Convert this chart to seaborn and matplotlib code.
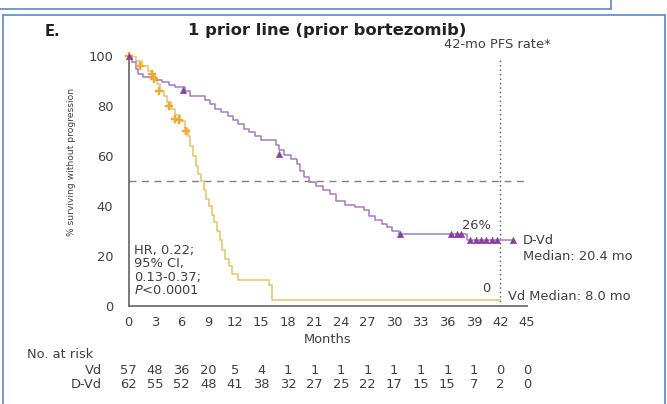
import numpy as np
import pandas as pd
import matplotlib
matplotlib.use("Agg")
import matplotlib.pyplot as plt
from matplotlib.lines import Line2D
import seaborn as sns

# ---------------- data ----------------
months_ticks = [0, 3, 6, 9, 12, 15, 18, 21, 24, 27, 30, 33, 36, 39, 42, 45]
yticks = [0, 20, 40, 60, 80, 100]

dvd_t = [0, 0.4, 0.8, 1.1, 1.6, 3.0, 3.8, 4.6, 5.3, 6.4, 7.0, 8.6, 9.2, 9.8, 10.5,
         11.2, 11.8, 12.4, 13.0, 13.6, 14.3, 15.0, 16.6, 17.0, 17.6, 18.4, 19.0,
         19.4, 19.8, 20.4, 21.2, 22.0, 22.8, 23.4, 24.5, 25.6, 26.6, 27.2, 27.8,
         28.6, 29.2, 29.8, 30.5, 38.2, 43.4]
dvd_s = [100, 97.5, 95, 93, 91.5, 90.5, 89.5, 88.5, 87.5, 86, 84, 82.5, 81, 79, 77.5,
         76, 74.5, 73, 71, 69.5, 68, 66.5, 64.5, 62.5, 60.5, 59, 57,
         54, 51.5, 49.5, 48, 46.5, 45, 42, 40.5, 39.5, 38.5, 36, 34.5,
         33, 31.5, 30, 28.8, 26.5, 26.5]
dvd_cens_t = [0, 6.2, 17.0, 30.7, 36.4, 37.1, 37.5, 38.6, 39.2, 39.8, 40.4, 41.0, 41.6, 43.4]
dvd_cens_s = [100, 86.5, 61, 28.8, 28.8, 28.8, 28.8, 26.5, 26.5, 26.5, 26.5, 26.5, 26.5, 26.5]

vd_t = [0, 0.8, 1.5, 2.2, 2.7, 3.2, 3.6, 4.0, 4.4, 4.8, 5.2, 5.8, 6.4, 6.7, 7.0, 7.3,
        7.6, 7.9, 8.2, 8.5, 8.8, 9.1, 9.4, 9.7, 10.0, 10.3, 10.6, 10.9, 11.3, 11.7,
        12.4, 15.9, 16.2, 42.0]
vd_s = [100, 98, 96, 94, 91.5, 89, 86, 84, 81.5, 79, 76.5, 74, 71, 68, 64, 60,
        56, 53, 50, 46.5, 43, 40, 36.5, 33.5, 30, 26.5, 22.5, 19, 16, 13,
        10.5, 8.5, 2.5, 2.5]
vd_cens_t = [0, 1.3, 2.6, 2.9, 3.5, 4.6, 5.2, 5.7, 6.5]
vd_cens_s = [100, 96, 93, 91, 86, 80, 75, 74.5, 70]

risk_groups = ["Vd", "D-Vd"]
vd_risk = [57, 48, 36, 20, 5, 4, 1, 1, 1, 1, 1, 1, 1, 1, 0, 0]
dvd_risk = [62, 55, 52, 48, 41, 38, 32, 27, 25, 22, 17, 15, 15, 7, 2, 0]

# ---------------- style ----------------
sns.set_theme(style="white")
plt.rcParams["font.family"] = ["DejaVu Sans"]
plt.rcParams["mathtext.fontset"] = "dejavusans"

TXT = "#404040"
AX = "#6e6e6e"
PUR_L = "#a47bc2"
PUR_M = "#8a3f9e"
ORA_L = "#e8c263"
ORA_M = "#f0a935"
FS = 9.4

W, H = 667, 404
fig = plt.figure(figsize=(W / 100, H / 100), dpi=100)
x0, x1, y0, y1 = 128.5, 527, 306, 56
ax = fig.add_axes([x0 / W, 1 - y0 / H, (x1 - x0) / W, (y0 - y1) / H])

# reference lines
ax.axhline(50, color="#808080", lw=1.0, ls=(0, (5, 4)), zorder=1)
ax.plot([42, 42], [0, 99], color="#555555", lw=1.0, ls=(0, (1, 2.2)), zorder=1)

# curves
sns.lineplot(x=vd_t, y=vd_s, drawstyle="steps-post", estimator=None, sort=False,
             color=ORA_L, lw=1.1, ax=ax, zorder=3)
sns.lineplot(x=dvd_t, y=dvd_s, drawstyle="steps-post", estimator=None, sort=False,
             color=PUR_L, lw=1.1, ax=ax, zorder=4)
sns.scatterplot(x=vd_cens_t, y=vd_cens_s, marker="P", s=28, color=ORA_M,
                edgecolor=ORA_M, linewidth=0.3, ax=ax, zorder=5, clip_on=False)
sns.scatterplot(x=dvd_cens_t, y=dvd_cens_s, marker="^", s=22, color=PUR_M,
                edgecolor=PUR_M, linewidth=0.3, ax=ax, zorder=6, clip_on=False)

ax.set_xlim(0, 45)
ax.set_ylim(0, 100)
ax.set_xticks(months_ticks)
ax.set_yticks(yticks)
ax.set_xticklabels([str(m) for m in months_ticks])
ax.set_yticklabels([str(v) for v in yticks])
for s in ["top", "right"]:
    ax.spines[s].set_visible(False)
for s in ["left", "bottom"]:
    ax.spines[s].set_color(AX)
    ax.spines[s].set_linewidth(1.3)
ax.tick_params(axis="both", direction="out", length=4, width=1.0, color=AX,
               labelsize=FS, labelcolor=TXT)
ax.tick_params(axis="x", pad=3)
ax.tick_params(axis="y", pad=7)
ax.set_xlabel("Months", fontsize=FS, color=TXT, labelpad=3)
ax.set_ylabel("")

# y label
fig.text(72 / W, 1 - 162 / H, "% surviving without progression", rotation=90,
         ha="center", va="center", fontsize=6.6, color=TXT)

# titles
fig.text(45 / W, 1 - 31 / H, "E.", fontsize=10.5, fontweight="bold", color="#222222",
         ha="left", va="center")
fig.text(327 / W, 1 - 31 / H, "1 prior line (prior bortezomib)", fontsize=11.8,
         fontweight="bold", color="#222222", ha="center", va="center")
fig.text(497 / W, 1 - 45 / H, "42-mo PFS rate*", fontsize=FS, color=TXT,
         ha="center", va="center")

# annotations
ax.text(0.6, (y0 - 244) / 2.5, "HR, 0.22;\n95% CI,\n0.13-0.37;\n$P$<0.0001", fontsize=FS,
        color=TXT, ha="left", va="top", linespacing=1.05)
fig.text(476 / W, 1 - 225 / H, "26%", fontsize=FS, color=TXT, ha="center", va="center")
fig.text(523 / W, 1 - 241 / H, "D-Vd", fontsize=FS, color=TXT, ha="left", va="center")
fig.text(523 / W, 1 - 257 / H, "Median: 20.4 mo", fontsize=FS, color=TXT, ha="left", va="center")
fig.text(486 / W, 1 - 288 / H, "0", fontsize=FS, color=TXT, ha="center", va="center")
fig.text(508 / W, 1 - 297 / H, "Vd Median: 8.0 mo", fontsize=FS, color=TXT, ha="left", va="center")

# number at risk table
fig.text(27 / W, 1 - 355 / H, "No. at risk", fontsize=FS, color=TXT, ha="left", va="center")
trans = ax.get_xaxis_transform()
for gi, (name, vals) in enumerate(zip(risk_groups, [vd_risk, dvd_risk])):
    yp = 370 + gi * 15
    yf = (y0 - yp) / (y0 - y1)
    fig.text(102 / W, 1 - yp / H, name, fontsize=FS, color=TXT, ha="right", va="center")
    for m, v in zip(months_ticks, vals):
        ax.text(m, yf, str(v), transform=trans, fontsize=FS, color=TXT,
                ha="center", va="center", clip_on=False)

# panel borders (document frame)
BL = "#5b86cc"
fig.add_artist(Line2D([0, 611 / W], [1 - 9 / H, 1 - 9 / H], color=BL, lw=1.2))
fig.add_artist(Line2D([611 / W, 611 / W], [1, 1 - 9 / H], color=BL, lw=1.2))
fig.add_artist(Line2D([3 / W, 665 / W], [1 - 15 / H, 1 - 15 / H], color=BL, lw=1.2))
fig.add_artist(Line2D([3 / W, 3 / W], [0, 1 - 15 / H], color=BL, lw=1.2))
fig.add_artist(Line2D([665 / W, 665 / W], [0, 1 - 15 / H], color=BL, lw=1.2))

fig.savefig("out.png", dpi=100)
